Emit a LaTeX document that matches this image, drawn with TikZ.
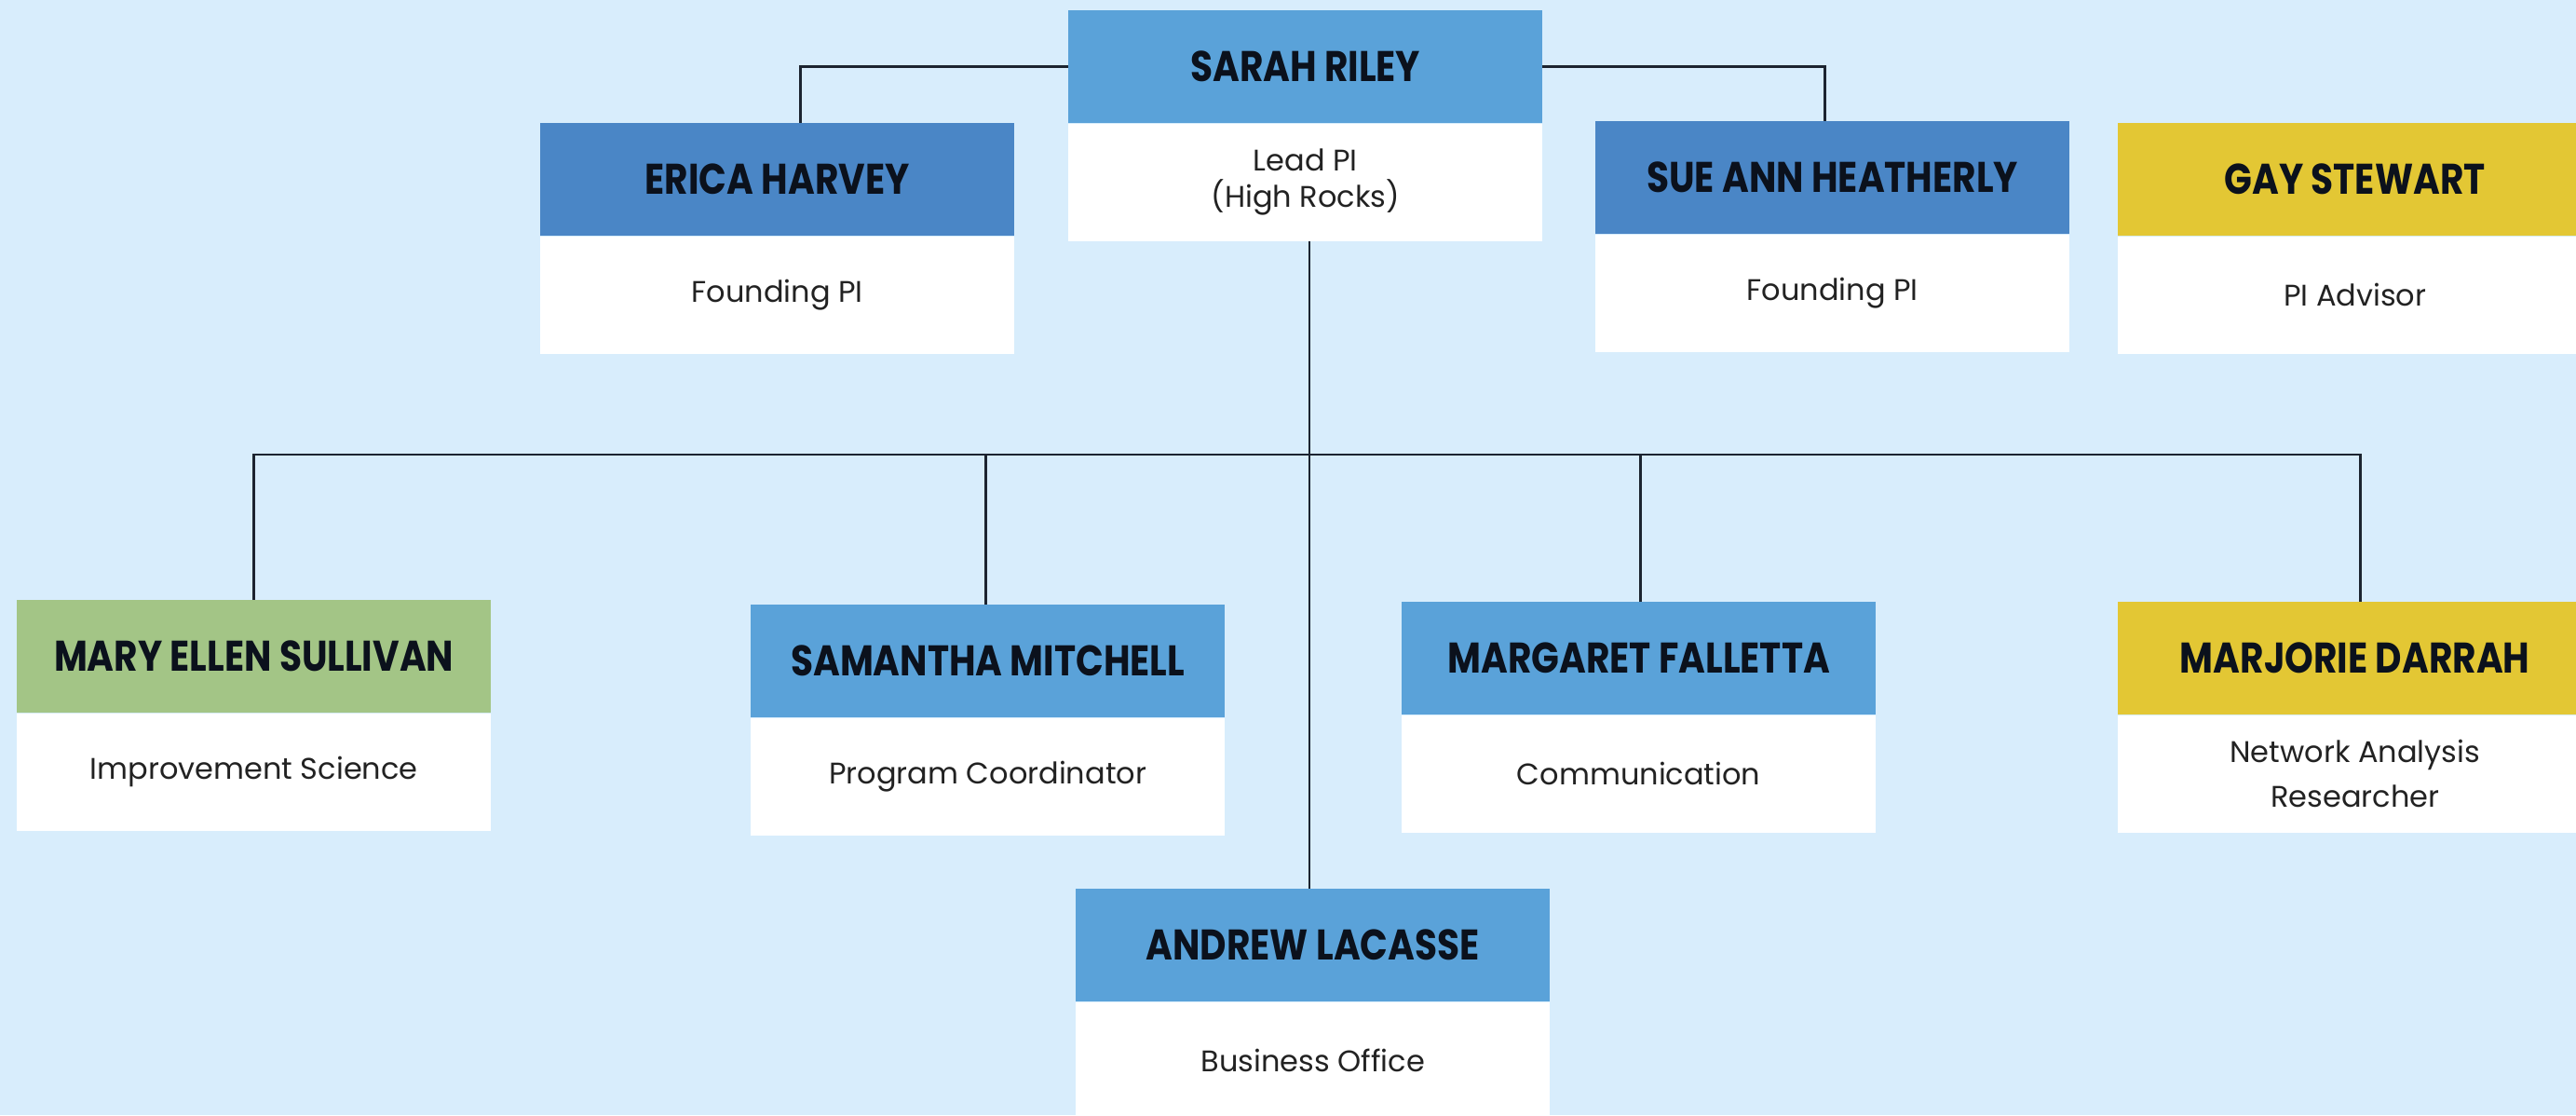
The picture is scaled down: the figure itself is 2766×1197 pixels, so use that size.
\documentclass[tikz,border=0pt]{standalone}
\usepackage{fontspec}
\setmainfont{Poppins}
\newfontfamily\namefont[FakeStretch=0.85]{Poppins}
\definecolor{bgblue}{HTML}{D8EDFC}
\definecolor{midblue}{HTML}{5AA2D9}
\definecolor{darkblue}{HTML}{4A86C6}
\definecolor{sage}{HTML}{A3C586}
\definecolor{mustard}{HTML}{E3C734}
\definecolor{namecol}{HTML}{0B111C}
\definecolor{rolecol}{HTML}{222222}
\definecolor{linecol}{HTML}{1C2430}
\begin{document}
\begin{tikzpicture}[x=1pt,y=-1pt,
  head/.style={rectangle, inner sep=0pt, minimum width=509pt, minimum height=121pt,
    anchor=north west, text=namecol, font=\namefont\bfseries\fontsize{46}{50}\selectfont},
  body/.style={rectangle, inner sep=0pt, minimum width=509pt, minimum height=126pt,
    anchor=north, fill=white, text=rolecol, align=center,
    font=\fontsize{32}{48}\selectfont},
  conn/.style={draw=linecol, line width=2.5pt}]
\fill[bgblue] (0,0) rectangle (2766,1197);
\useasboundingbox (0,0) rectangle (2766,1197);
\newcommand\orgbox[6]{%
  \node[head, fill=#4] (#1) at (#2,#3) {#5};
  \node[body] (#1R) at (#1.south) {#6};}
\orgbox{sarah}{1147}{11}{midblue}{SARAH RILEY}{Lead PI\\[-9pt](High Rocks)}
\orgbox{erica}{580}{132}{darkblue}{ERICA HARVEY}{Founding PI}
\orgbox{sue}{1713}{130}{darkblue}{SUE ANN HEATHERLY}{Founding PI}
\orgbox{gay}{2274}{132}{mustard}{GAY STEWART}{PI Advisor}
\orgbox{mary}{18}{644}{sage}{MARY ELLEN SULLIVAN}{Improvement Science}
\orgbox{samantha}{806}{649}{midblue}{SAMANTHA MITCHELL}{Program Coordinator}
\orgbox{margaret}{1505}{646}{midblue}{MARGARET FALLETTA}{Communication}
\orgbox{marjorie}{2274}{646}{mustard}{MARJORIE DARRAH}{Network Analysis\\Researcher}
\orgbox{andrew}{1155}{954}{midblue}{ANDREW LACASSE}{Business Office}
\coordinate (bus) at (1406,488);
\draw[conn] (sarah.west) -| ([xshift=25pt]erica.north);
\draw[conn] (sarah.east) -| ([xshift=-8pt]sue.north);
\draw[conn] (sarahR.south -| bus) -- (andrew.north -| bus);
\draw[conn] (mary.north) -- (mary.north |- bus) -- ([xshift=6pt]marjorie.north |- bus) -- ([xshift=6pt]marjorie.north);
\draw[conn] ([xshift=-2pt]samantha.north) -- ([xshift=-2pt]samantha.north |- bus);
\draw[conn] ([xshift=2pt]margaret.north) -- ([xshift=2pt]margaret.north |- bus);
\end{tikzpicture}
\end{document}
